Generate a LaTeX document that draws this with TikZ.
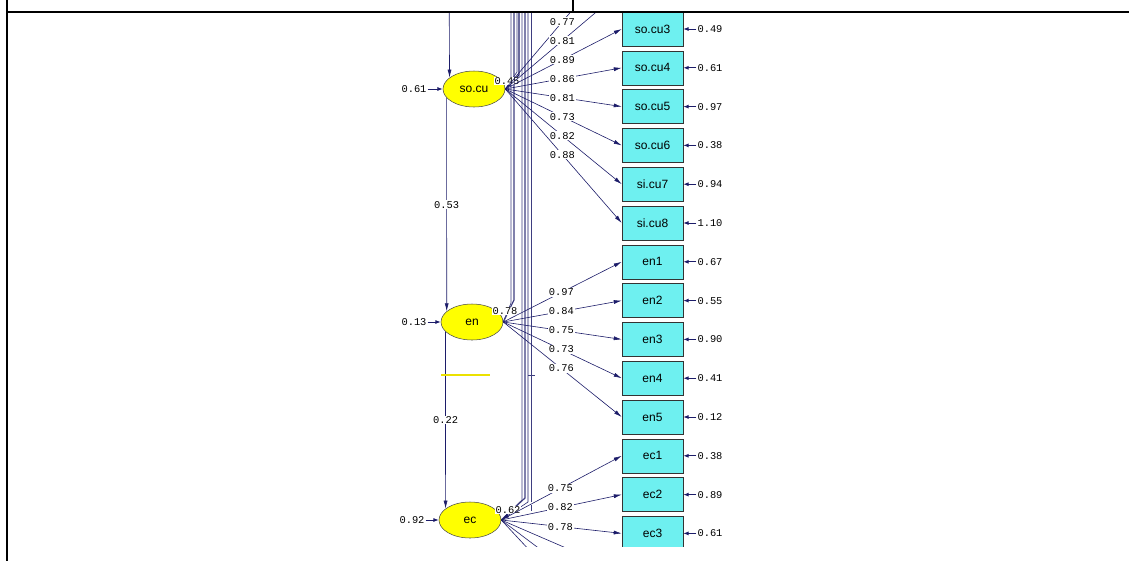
\documentclass[tikz,border=0pt]{standalone}
\usepackage{fontspec}
\usetikzlibrary{arrows.meta,shapes.geometric}
\newfontfamily\numfont{Liberation Mono}
\newfontfamily\labfont{Liberation Sans}
\definecolor{lisnavy}{RGB}{28,28,105}
\definecolor{boxcyan}{RGB}{110,240,240}
\definecolor{lvyellow}{RGB}{255,255,0}
\definecolor{lineyellow}{RGB}{235,225,0}
\tikzset{
  lv/.style={ellipse, draw=black!70, fill=lvyellow, minimum width=46.5pt, minimum height=27pt, inner sep=0pt, font=\labfont\fontsize{9pt}{9pt}\selectfont},
  ov/.style={rectangle, draw=black!80, fill=boxcyan, minimum width=45.75pt, minimum height=25.5pt, inner sep=0pt, font=\labfont\fontsize{9pt}{9pt}\selectfont},
  coef/.style={fill=white, inner sep=0.6pt, font=\numfont\fontsize{7.8pt}{8pt}\selectfont},
  load/.style={draw=lisnavy, line width=0.45pt, -{Latex[length=6pt,width=3pt]}},
  corr/.style={draw=lisnavy!85, line width=0.5pt},
  err/.style={draw=lisnavy, line width=0.7pt, -{Latex[length=4pt,width=3pt]}}
}
\begin{document}
\begin{tikzpicture}[x=0.75pt,y=-0.75pt]
\useasboundingbox (0,0) rectangle (1129,561);
\begin{scope}
\clip (9,13) rectangle (1129,546);
% latent variables
\node[lv] (socu) at (474,89) {so.cu};
\node[lv] (en) at (472,322) {en};
\node[lv] (ec) at (470,520) {ec};
% observed variables
\coordinate (socu1) at (622,-48.6);
\coordinate (socu2) at (622,-9.8);
\node[ov] (socu3) at (652.5,29) {so.cu3};
\node[ov] (socu4) at (652.5,67.8) {so.cu4};
\node[ov] (socu5) at (652.5,106.6) {so.cu5};
\node[ov] (socu6) at (652.5,145.4) {so.cu6};
\node[ov] (sicu7) at (652.5,184.2) {si.cu7};
\node[ov] (sicu8) at (652.5,223) {si.cu8};
\node[ov] (en1) at (652.5,261.8) {en1};
\node[ov] (en2) at (652.5,300.6) {en2};
\node[ov] (en3) at (652.5,339.4) {en3};
\node[ov] (en4) at (652.5,378.2) {en4};
\node[ov] (en5) at (652.5,417) {en5};
\node[ov] (ec1) at (652.5,455.8) {ec1};
\node[ov] (ec2) at (652.5,494.6) {ec2};
\node[ov] (ec3) at (652.5,533.4) {ec3};
\coordinate (ec4) at (622,572.2);
\coordinate (ec5) at (622,611);
\coordinate (ec6) at (622,649.8);
% error terms
\node[coef] (e-socu3) at (710,29) {0.49};
\node[coef] (e-socu4) at (710,67.8) {0.61};
\node[coef] (e-socu5) at (710,106.6) {0.97};
\node[coef] (e-socu6) at (710,145.4) {0.38};
\node[coef] (e-sicu7) at (710,184.2) {0.94};
\node[coef] (e-sicu8) at (710,223) {1.10};
\node[coef] (e-en1) at (710,261.8) {0.67};
\node[coef] (e-en2) at (710,300.6) {0.55};
\node[coef] (e-en3) at (710,339.4) {0.90};
\node[coef] (e-en4) at (710,378.2) {0.41};
\node[coef] (e-en5) at (710,417) {0.12};
\node[coef] (e-ec1) at (710,455.8) {0.38};
\node[coef] (e-ec2) at (710,494.6) {0.89};
\node[coef] (e-ec3) at (710,533.4) {0.61};
\node[coef] (e-socu) at (414,89) {0.61};
\node[coef] (e-en) at (414,322) {0.13};
\node[coef] (e-ec) at (412,520) {0.92};
\draw[err] (e-socu3) -- (socu3);
\draw[err] (e-socu4) -- (socu4);
\draw[err] (e-socu5) -- (socu5);
\draw[err] (e-socu6) -- (socu6);
\draw[err] (e-sicu7) -- (sicu7);
\draw[err] (e-sicu8) -- (sicu8);
\draw[err] (e-en1) -- (en1);
\draw[err] (e-en2) -- (en2);
\draw[err] (e-en3) -- (en3);
\draw[err] (e-en4) -- (en4);
\draw[err] (e-en5) -- (en5);
\draw[err] (e-ec1) -- (ec1);
\draw[err] (e-ec2) -- (ec2);
\draw[err] (e-ec3) -- (ec3);
\draw[err] (e-socu) -- (socu);
\draw[err] (e-en) -- (en);
\draw[err] (e-ec) -- (ec);
% paths between latent variables
\coordinate (topin) at (449,-30);
\draw[load] (topin) -- (socu.155);
\draw[load] (socu.198) -- node[coef]{0.53} (en.157);
\draw[load] (en.200) -- node[coef]{0.22} (ec.155);
% long lines on the right
\draw[corr] (511,13) -- (511,303) -- (en.east);
\draw[corr, line width=0.9pt] (514,13) -- (514,300) -- (en.east);
\draw[corr] (517,13) -- (517,72) -- (socu.east);
\draw[load, line width=0.9pt] (519,13) -- (519,75) -- (socu.east);
\draw[corr] (522,13) -- (522,500) -- (ec.east);
\draw[corr, line width=0.9pt] (525,13) -- (525,498) -- (ec.east);
\draw[load] (528,13) -- (528,502) -- (ec.east);
\draw[corr] (531,13) -- (531,502);
\draw[corr] (531,505) -- (531,511);
\draw[corr] (528,375) -- (535,375);
\draw[lineyellow, line width=1pt] (441,375) -- (490,375);
\node[coef] (r-socu) at (507,81) {0.45};
\node[coef] (r-en) at (505,311) {0.78};
\node[coef] (r-ec) at (508,510) {0.62};
% loadings
\draw[load] (socu.east) -- node[coef,pos=.49]{0.77} (socu1);
\draw[load] (socu.east) -- node[coef,pos=.49]{0.81} (socu2);
\draw[load] (socu.east) -- node[coef,pos=.49]{0.89} (socu3.west);
\draw[load] (socu.east) -- node[coef,pos=.49]{0.86} (socu4.west);
\draw[load] (socu.east) -- node[coef,pos=.49]{0.81} (socu5.west);
\draw[load] (socu.east) -- node[coef,pos=.49]{0.73} (socu6.west);
\draw[load] (socu.east) -- node[coef,pos=.49]{0.82} (sicu7.west);
\draw[load] (socu.east) -- node[coef,pos=.49]{0.88} (sicu8.west);
\draw[load] (en.east) -- node[coef,pos=.49]{0.97} (en1.west);
\draw[load] (en.east) -- node[coef,pos=.49]{0.84} (en2.west);
\draw[load] (en.east) -- node[coef,pos=.49]{0.75} (en3.west);
\draw[load] (en.east) -- node[coef,pos=.49]{0.73} (en4.west);
\draw[load] (en.east) -- node[coef,pos=.49]{0.76} (en5.west);
\draw[load] (ec.east) -- node[coef,pos=.49]{0.75} (ec1.west);
\draw[load] (ec.east) -- node[coef,pos=.49]{0.82} (ec2.west);
\draw[load] (ec.east) -- node[coef,pos=.49]{0.78} (ec3.west);
\draw[load] (ec.east) -- (ec4);
\draw[load] (ec.east) -- (ec5);
\draw[load] (ec.east) -- (ec6);
\end{scope}
% table rules
\draw[line width=1.5pt] (7,0) -- (7,561);
\draw[line width=1.5pt] (7,12) -- (1129,12);
\draw[line width=1.5pt] (573,0) -- (573,12);
\end{tikzpicture}
\end{document}
